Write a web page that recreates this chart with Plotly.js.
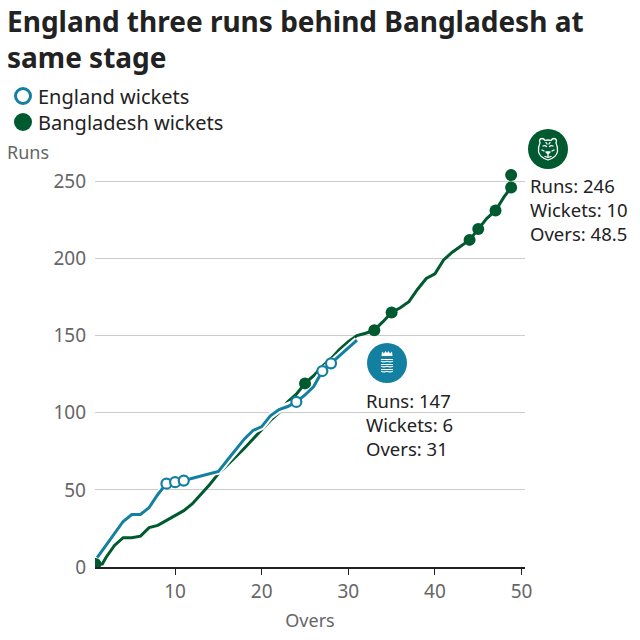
<!DOCTYPE html>
<html>
<head>
<meta charset="utf-8">
<script src="https://cdn.plot.ly/plotly-3.0.1.min.js"></script>
<style>
  html, body { margin: 0; padding: 0; background: #fff; }
  #chart { width: 640px; height: 640px; }
</style>
</head>
<body>
<div id="chart"></div>
<script>
// --- DATA ---
const engOvers = [1, 2, 3, 4, 5, 6, 7, 8, 9, 10, 11, 12, 13, 14, 15, 16, 17, 18, 19, 20, 21, 22, 23, 24, 25, 26, 27, 28, 29, 30, 31];
const engRuns = [6, 14, 22, 29.5, 34, 34, 38.5, 47, 54, 55, 56, 57.5, 59, 61, 62, 69, 76, 83, 88.5, 91, 98, 102, 104, 107, 111.5, 117, 127, 132, 137, 142, 147];
const engWktOvers = [9, 10, 11, 24, 27, 28];
const engWktRuns = [54, 55, 56, 107, 127, 132];

const banOvers = [0.8, 1.6, 2, 3, 4, 5, 6, 7, 8, 9, 10, 11, 12, 13, 14, 15, 16, 17, 18, 19, 20, 21, 22, 23, 24, 25, 26, 27, 28, 29, 30, 31, 32, 33, 34, 35, 36, 37, 38, 39, 40, 41, 42, 43, 44, 45, 46, 47, 48, 48.8];
const banRuns = [2, 2, 6, 14, 19, 19, 20, 25.5, 27, 30, 33.5, 36.5, 41, 47, 53.5, 60.5, 66, 71, 77, 83, 89, 95, 100, 107, 112, 119, 124, 130, 135, 141, 146, 150, 151.5, 153.5, 159, 165, 168, 172, 180, 187, 190, 199, 204, 208, 212, 219, 226, 231, 240, 246];
const banWktOvers = [0.8, 25, 33, 35, 44, 45, 47, 48.8, 48.8];
const banWktRuns = [2, 119, 153.5, 165, 212, 219, 231, 246, 254];

const titleText = 'England three runs behind Bangladesh at<br>same stage';
const legendNames = ['England wickets', 'Bangladesh wickets'];
const engLabel = 'Runs: 147<br>Wickets: 6<br>Overs: 31';
const banLabel = 'Runs: 246<br>Wickets: 10<br>Overs: 48.5';

const ENG = '#1380a1';
const BAN = '#005a30';
const FONT = 'Noto Sans, Open Sans, sans-serif';

// plot box in pixels
const L = 95, R = 525, T = 162, B = 567;
const px = x => (x - L) / (R - L);
const py = y => (B - y) / (B - T);

function icon(fill, inner) {
    const svg = `<svg xmlns="http://www.w3.org/2000/svg" viewBox="0 0 40 40"><circle cx="20" cy="20" r="20" fill="${fill}"/>${inner}</svg>`;
    return 'data:image/svg+xml;charset=utf-8,' + encodeURIComponent(svg);
}

const ecbInner = `<g fill="#fff"><path d="M14.5 13 L15 8.5 L17 10.5 L18.5 8 L20 10 L21.5 8 L23 10.5 L25 8.5 L25.5 13 Z"/></g>
<g fill="none" stroke="#fff" stroke-width="1.1">
<path d="M14 16.5 h12 M14 18.3 q3 1.2 6 0 q3 1.2 6 0"/>
<path d="M14 21.5 h12 M14 23.3 q3 1.2 6 0 q3 1.2 6 0"/>
<path d="M14 26.5 h12 M14 28.3 q3 1.2 6 0 q3 1.2 6 0"/></g>`;

const tigerInner = `<g fill="none" stroke="#fff" stroke-width="1.3" stroke-linejoin="round" stroke-linecap="round">
<path d="M12 14 q-1.5-4 2-4.5 q2 0 3 2 q3-1 6 0 q1-2 3-2 q3.5 0.5 2 4.5 q2 4 1.5 8.5 q-1 6-9.5 8.5 q-8.5-2.5-9.5-8.5 q-0.5-4.5 1.5-8.5z"/>
<path d="M15 17 q2-1 3.5 0.5 M25 17 q-2-1-3.5 0.5"/>
<path d="M18 23 h4 l-2 2 z M20 25 v2 M17 27.5 q3 1.5 6 0"/>
<path d="M14 21 l2 1 M26 21 l-2 1 M18 13.5 l1 1.5 M22 13.5 l-1 1.5"/></g>`;

const traces = [
    { x: banOvers, y: banRuns, mode: 'lines', line: { color: BAN, width: 3 }, hoverinfo: 'skip' },
    { x: engOvers, y: engRuns, mode: 'lines', line: { color: '#fff', width: 7 }, hoverinfo: 'skip' },
    { x: engOvers, y: engRuns, mode: 'lines', line: { color: ENG, width: 3 }, hoverinfo: 'skip' },
    { x: banWktOvers, y: banWktRuns, mode: 'markers', marker: { color: BAN, size: 12 } },
    { x: engWktOvers, y: engWktRuns, mode: 'markers',
      marker: { color: '#fff', size: 10, line: { color: ENG, width: 2.2 } } },
];

// hand-made legend (a plotly legend outside the plot pushes the margins)
const legendRows = [96, 122];
const legendShapes = [
    { type: 'circle', xref: 'paper', yref: 'paper',
      x0: px(15.5), x1: px(30.5), y0: py(legendRows[0] + 7.5), y1: py(legendRows[0] - 7.5),
      fillcolor: '#fff', line: { color: ENG, width: 3 } },
    { type: 'circle', xref: 'paper', yref: 'paper',
      x0: px(14), x1: px(32), y0: py(legendRows[1] + 9), y1: py(legendRows[1] - 9),
      fillcolor: BAN, line: { width: 0 } },
];

const annotations = [
    { text: titleText, xref: 'paper', yref: 'paper', x: px(5), y: py(0),
      xanchor: 'left', yanchor: 'top', align: 'left', showarrow: false,
      font: { family: FONT, size: 28, weight: 'bold', color: '#222' } },
    // both legend names in one block, 20px text gives the 26px row pitch
    { text: legendNames.join('<br>'), xref: 'paper', yref: 'paper', x: px(36),
      y: py((legendRows[0] + legendRows[1]) / 2),
      xanchor: 'left', yanchor: 'middle', align: 'left', showarrow: false,
      font: { size: 20, color: '#222' } },
    { text: 'Runs', xref: 'paper', yref: 'paper', x: px(5), y: py(152),
      xanchor: 'left', yanchor: 'middle', showarrow: false,
      font: { size: 18, color: '#666' } },
    { text: engLabel, xref: 'paper', yref: 'paper', x: px(364), y: py(386),
      xanchor: 'left', yanchor: 'top', align: 'left', showarrow: false,
      font: { size: 18.5, color: '#222' } },
    { text: banLabel, xref: 'paper', yref: 'paper', x: px(528), y: py(171),
      xanchor: 'left', yanchor: 'top', align: 'left', showarrow: false,
      font: { size: 18.5, color: '#222' } },
];

const layout = {
    width: 640,
    height: 640,
    margin: { l: L, r: 640 - R, t: T, b: 640 - B },
    paper_bgcolor: '#fff',
    plot_bgcolor: '#fff',
    font: { family: FONT, color: '#222' },
    showlegend: false,
    xaxis: {
        range: [0.75, 50.4],
        tickvals: [10, 20, 30, 40, 50],
        ticks: 'outside', ticklen: 6, tickcolor: '#222', tickwidth: 1,
        showline: true, linecolor: '#222', linewidth: 2,
        showgrid: false, zeroline: false,
        tickfont: { size: 19, color: '#666' },
        title: { text: 'Overs', font: { size: 18, color: '#666' }, standoff: 12 },
        fixedrange: true,
    },
    yaxis: {
        range: [0, (B - T) / 1.543],
        tickvals: [0, 50, 100, 150, 200, 250],
        showgrid: true, gridcolor: '#cccccc', gridwidth: 1,
        zeroline: false, showline: false,
        ticks: '', ticklabelstandoff: 8,
        tickfont: { size: 19, color: '#666' },
        fixedrange: true,
    },
    shapes: legendShapes,
    annotations: annotations,
    images: [
        { source: icon(ENG, ecbInner), xref: 'paper', yref: 'paper',
          x: px(387), y: py(363), sizex: 40 / (R - L), sizey: 40 / (B - T),
          xanchor: 'center', yanchor: 'middle', layer: 'above' },
        { source: icon(BAN, tigerInner), xref: 'paper', yref: 'paper',
          x: px(548), y: py(149), sizex: 40 / (R - L), sizey: 40 / (B - T),
          xanchor: 'center', yanchor: 'middle', layer: 'above' },
    ],
};

Plotly.newPlot('chart', traces, layout, { displayModeBar: false, staticPlot: true });
</script>
</body>
</html>
